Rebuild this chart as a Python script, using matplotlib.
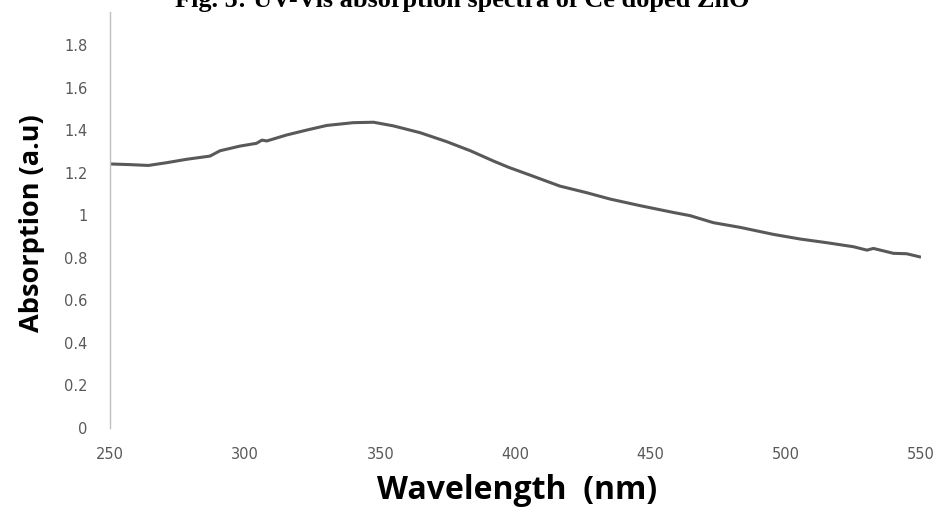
from matplotlib import pyplot as plt
import numpy as np

# UV-Vis absorption of Ce doped ZnO
wavelength = [250, 257.1, 264.2, 271.0, 278.4, 287.0, 290.7, 298.1, 304.2, 306.2, 308.0,
              315.3, 322.7, 330.2, 340.0, 347.5, 354.8, 364.7, 374.5, 383.3, 391.8,
              397.5, 405.3, 416.4, 426.3, 435.0, 446.1, 458.4, 464.6, 473.2, 483.1,
              495.4, 505.4, 515.1, 525.0, 530.0, 532.4, 539.8, 544.7, 550]
absorption = [1.241, 1.238, 1.234, 1.247, 1.263, 1.278, 1.303, 1.325, 1.338, 1.353, 1.349,
              1.377, 1.400, 1.422, 1.435, 1.437, 1.420, 1.388, 1.346, 1.303, 1.255,
              1.225, 1.189, 1.137, 1.106, 1.076, 1.045, 1.013, 0.998, 0.965, 0.943,
              0.910, 0.888, 0.871, 0.852, 0.836, 0.844, 0.821, 0.819, 0.803]
x_ticks = [250, 300, 350, 400, 450, 500, 550]
y_ticks = [0, 0.2, 0.4, 0.6, 0.8, 1, 1.2, 1.4, 1.6, 1.8]
y_tick_labels = ['0', '0.2', '0.4', '0.6', '0.8', '1', '1.2', '1.4', '1.6', '1.8']

fig = plt.figure(figsize=(9.45, 5.16), dpi=100)
ax = fig.add_axes([0.1164, 0.1705, 0.8582, 0.8062])

ax.plot(wavelength, absorption, color='#595959', linewidth=2.2, solid_capstyle='butt')

ax.set_xlim(250, 550)
ax.set_ylim(0, 1.955)
ax.set_xticks(x_ticks)
ax.set_yticks(y_ticks)
ax.set_yticklabels(y_tick_labels)
ax.tick_params(axis='both', length=0, labelsize=10.5, labelcolor='#595959')
ax.tick_params(axis='y', pad=16)
ax.tick_params(axis='x', pad=14)

for side in ['top', 'right', 'bottom']:
    ax.spines[side].set_visible(False)
ax.spines['left'].set_color('#bfbfbf')
ax.spines['left'].set_linewidth(1)

fig.text(0.034, 0.568, 'Absorption (a.u)', rotation=90, ha='center', va='center',
         fontsize=19.5, fontweight='bold', family='Open Sans', color='black')
fig.text(0.547, 0.05, 'Wavelength  (nm)', ha='center', va='center',
         fontsize=23, fontweight='bold', family='Open Sans', color='black')
fig.text(0.489, 0.9864, 'Fig. 5: UV-Vis absorption spectra of Ce doped ZnO',
         ha='center', va='baseline', fontsize=18.9, fontweight='bold',
         family='Liberation Serif', color='black')

plt.savefig('out.png', dpi=100)
